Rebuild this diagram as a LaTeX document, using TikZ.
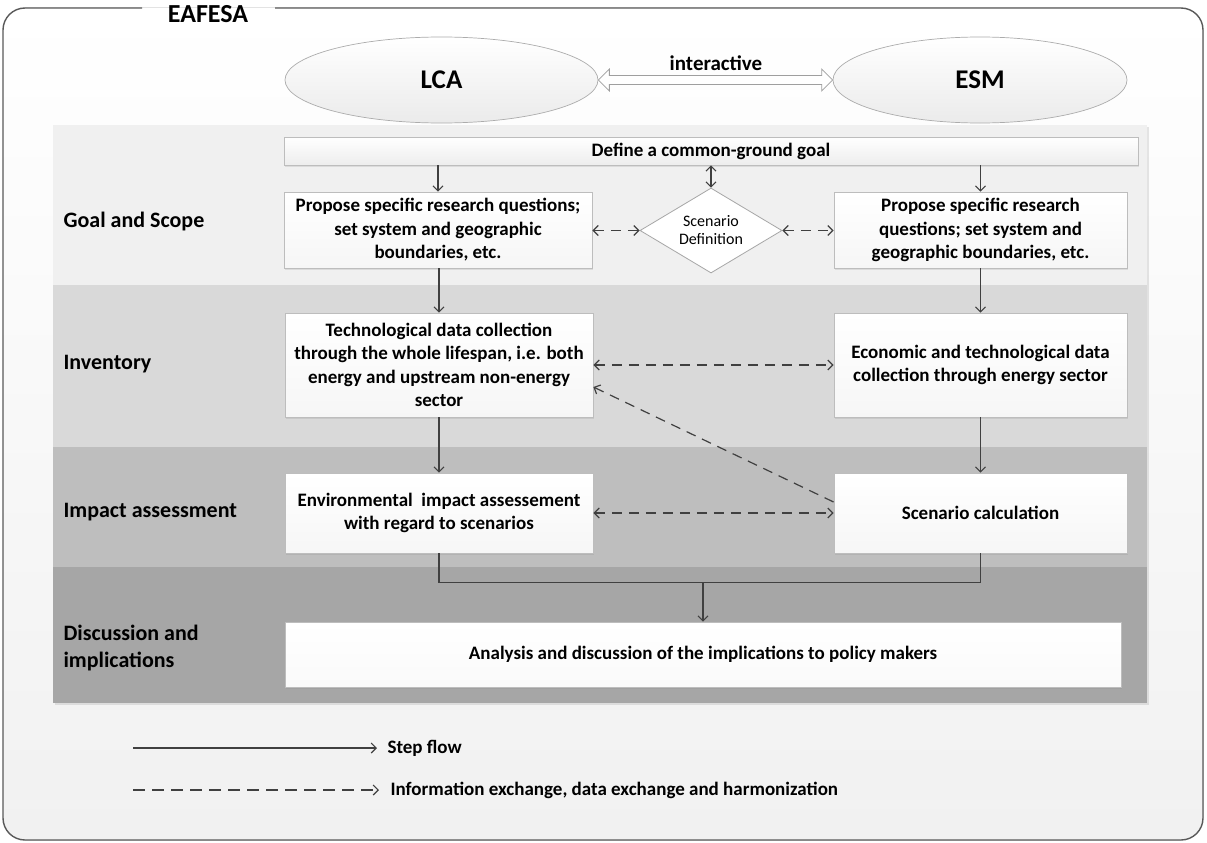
\documentclass[tikz,border=0pt]{standalone}
\usepackage{fontspec}
\setmainfont{Carlito}
\usetikzlibrary{arrows.meta,shapes.geometric,shadows,calc}

\definecolor{framegray}{HTML}{595959}
\definecolor{bandA}{HTML}{F0F0F0}
\definecolor{bandB}{HTML}{D9D9D9}
\definecolor{bandC}{HTML}{BEBEBE}
\definecolor{bandD}{HTML}{A6A6A6}
\definecolor{boxline}{HTML}{BDBDBD}
\definecolor{arrowgray}{HTML}{404040}

\begin{document}
\begin{tikzpicture}[x=1pt,y=-1pt,
  font=\bfseries,
  box/.style={draw=boxline, line width=0.8pt, top color=white, bottom color=gray!7,
    drop shadow={opacity=0.18, shadow xshift=1pt, shadow yshift=-1.5pt},
    align=center, inner sep=0pt, font=\fontsize{19}{23.5}\selectfont\bfseries},
  bar/.style={draw=boxline, line width=0.8pt, top color=white, bottom color=gray!14,
    drop shadow={opacity=0.18, shadow xshift=1pt, shadow yshift=-1.5pt},
    inner sep=0pt, font=\fontsize{19}{23}\selectfont\bfseries},
  ell/.style={ellipse, draw=gray!65, line width=0.7pt, top color=white, bottom color=gray!16,
    minimum height=86pt, inner sep=0pt, font=\fontsize{27}{32}\selectfont\bfseries},
  dia/.style={diamond, draw=gray!70, line width=0.8pt, fill=white, aspect=1.67,
    minimum width=142pt, minimum height=85pt, inner sep=0pt, align=center,
    font=\fontsize{16}{18}\selectfont},
  lab/.style={anchor=west, align=left, font=\fontsize{22}{27}\selectfont\bfseries},
  legtext/.style={anchor=west, font=\fontsize{19}{23}\selectfont\bfseries},
  flow/.style={draw=arrowgray, line width=1.1pt, -{Straight Barb[length=5pt,width=10pt]}},
  steplink/.style={draw=arrowgray, line width=1.1pt},
  exch/.style={draw=arrowgray, line width=1.2pt, dash pattern=on 10pt off 7pt,
    {Straight Barb[length=5pt,width=10pt]}-{Straight Barb[length=5pt,width=10pt]}},
  exchone/.style={draw=arrowgray, line width=1.2pt, dash pattern=on 10pt off 7pt,
    -{Straight Barb[length=5pt,width=10pt]}},
  hollow/.style={draw=gray!75, line width=0.8pt, fill=white}
]
\useasboundingbox (0,0) rectangle (1207,843);

% outer frame with its title set into the top edge
\fill[top color=white, bottom color=gray!11, rounded corners=22pt] (3,8) rectangle (1203,840);
\draw[framegray, line width=1.4pt, rounded corners=22pt]
  (142,8) -- (3,8) -- (3,840) -- (1203,840) -- (1203,8) -- (275,8);
\node[font=\fontsize{26}{30}\selectfont\bfseries] (title) at (208,14) {EAFESA};

% phase bands
\fill[bandA, drop shadow={opacity=0.2, shadow xshift=1.5pt, shadow yshift=-2pt}] (53,125) rectangle (1147,703);
\fill[bandB] (53,285) rectangle (1147,447);
\fill[bandC] (53,447) rectangle (1147,567);
\fill[bandD] (53,567) rectangle (1147,703);

% phase labels
\node[lab] (lgoal) at (60,222) {Goal and Scope};
\node[lab] (linv)  at (60,364) {Inventory};
\node[lab] (limp)  at (60,512) {Impact assessment};
\node[lab] (ldis)  at (60,648) {Discussion and\\implications};

% the two models
\node[ell, minimum width=313pt] (lca) at (441.5,80) {LCA};
\node[ell, minimum width=294pt] (esm) at (980,80) {ESM};
\node[font=\fontsize{21}{25}\selectfont\bfseries] (inter) at (716,63) {interactive};
\path (lca.east) coordinate (ia) (esm.west) coordinate (ib);
\draw[hollow] (ia) -- ++(11,-11) -- ++(0,6.5) -- ($(ib)+(-11,-4.5)$) -- ++(0,-6.5)
  -- (ib) -- ++(-11,11) -- ++(0,-6.5) -- ($(ia)+(11,4.5)$) -- ++(0,6.5) -- cycle;

% goal and scope
\node[bar, minimum width=854pt, minimum height=28pt] (def) at (711,151) {Define a common-ground goal};
\node[box, minimum width=308pt, minimum height=76pt] (p1) at (438,230)
  {Propose specific research questions;\\set system and geographic\\boundaries, etc.};
\node[box, minimum width=293pt, minimum height=76pt] (p2) at (980.5,230)
  {Propose specific research\\questions; set system and\\geographic boundaries, etc.};
\node[dia] (dia) at (711,230.5) {Scenario\\Definition};

% inventory
\node[box, minimum width=308pt, minimum height=104pt] (tech) at (439,365)
  {Technological data collection\\through the whole lifespan, i.e. both\\energy and upstream non-energy\\sector};
\node[box, minimum width=293pt, minimum height=104pt] (econ) at (980.5,365)
  {Economic and technological data\\collection through energy sector};

% impact assessment
\node[box, minimum width=308pt, minimum height=80pt] (env) at (439,513)
  {Environmental\ \ impact assessement\\with regard to scenarios};
\node[box, minimum width=293pt, minimum height=80pt] (scen) at (980.5,513)
  {Scenario calculation};

% discussion
\node[box, minimum width=836pt, minimum height=65pt, top color=white, bottom color=gray!4] (ana) at (703,654.5)
  {Analysis and discussion of the implications to policy makers};

% step flow
\draw[flow] (def.south -| p1.north) -- (p1.north);
\draw[flow] (def.south -| p2.north) -- (p2.north);
\draw[flow, {Straight Barb[length=5pt,width=10pt]}-{Straight Barb[length=5pt,width=10pt]}] (def.south) -- (dia.north);
\draw[flow] (p1.south -| tech.north) -- (tech.north);
\draw[flow] (p2.south -| econ.north) -- (econ.north);
\draw[flow] (tech.south -| env.north) -- (env.north);
\draw[flow] (econ.south -| scen.north) -- (scen.north);
\coordinate (merge) at ($(ana.north)+(0,-39)$);
\draw[steplink] (env.south) |- (merge) -| (scen.south);
\draw[flow] (merge) -- (ana.north);

% information exchange
\draw[exch] (p1.east |- dia.west) -- (dia.west);
\draw[exch] (dia.east) -- (p2.west |- dia.east);
\draw[exch] (tech.east) -- (econ.west);
\draw[exch] (env.east) -- (scen.west);
\draw[exchone] ($(scen.west)+(0,-11)$) -- ($(tech.east)+(0,22)$);

% legend
\coordinate (ls1) at (133,748);
\coordinate (ls2) at (377,748);
\coordinate (ld1) at (133,790);
\coordinate (ld2) at (379,790);
\draw[flow] (ls1) -- (ls2);
\node[legtext] (lstep) at (384,748) {Step flow};
\draw[exchone, dash pattern=on 12pt off 7pt] (ld1) -- (ld2);
\node[legtext] (lexch) at (387,790) {Information exchange, data exchange and harmonization};
\end{tikzpicture}
\end{document}
